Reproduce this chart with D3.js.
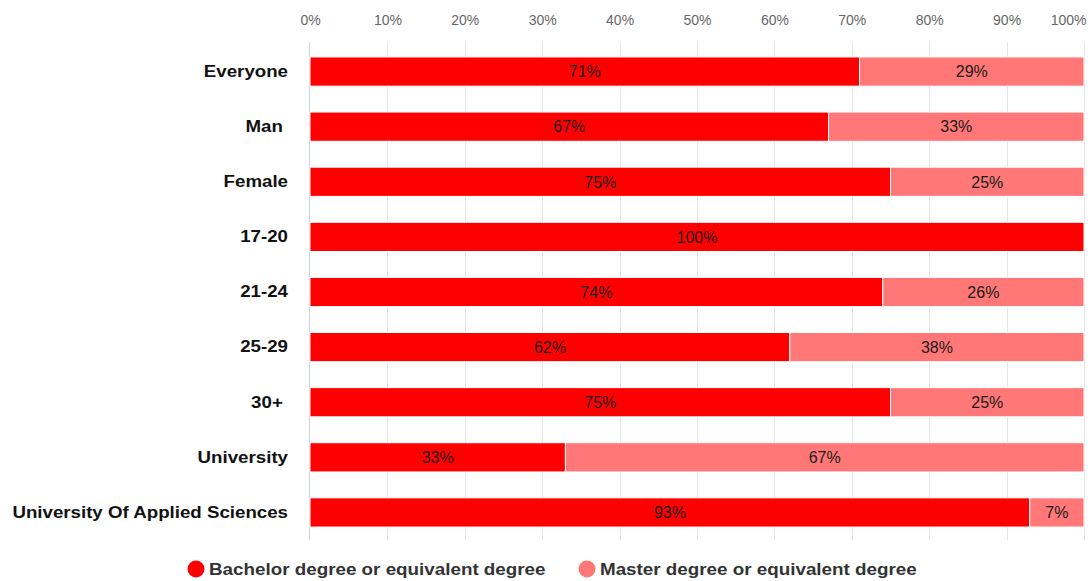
<!DOCTYPE html>
<html>
<head>
<meta charset="utf-8">
<script src="https://cdn.jsdelivr.net/npm/d3@7"></script>
<style>
  html, body { margin: 0; padding: 0; background: #fff; }
  svg { display: block; font-family: "Liberation Sans", Arial, sans-serif; }
</style>
</head>
<body>
<svg id="chart" width="1092" height="581"></svg>
<script>
// Degree level share by respondent group (percent)
const categories = ["Everyone", "Man ", "Female", "17-20", "21-24", "25-29", "30+ ", "University", "University Of Applied Sciences"];
const bachelor = [71, 67, 75, 100, 74, 62, 75, 33, 93];
const master = [29, 33, 25, 0, 26, 38, 25, 67, 7];
const seriesNames = ["Bachelor degree or equivalent degree", "Master degree or equivalent degree"];
const seriesColors = ["#ff0000", "#ff7777"];
const tickValues = [0, 10, 20, 30, 40, 50, 60, 70, 80, 90, 100];

(function () {
  const svg = d3.select("#chart");
  const plotLeft = 310, plotRight = 1084, plotTop = 44, plotBottom = 540;
  const stretch = 1.12; // horizontal widening of the bold label face

  const x = d3.scaleLinear().domain([0, 100]).range([plotLeft, plotRight]);
  const y = d3.scaleBand().domain(categories).range([plotTop, plotBottom]).paddingInner(0.47).paddingOuter(0.235);

  // Grid lines
  svg.append("g").selectAll("line").data(tickValues.slice(1)).join("line")
    .attr("x1", d => Math.round(x(d)) + 0.5).attr("x2", d => Math.round(x(d)) + 0.5)
    .attr("y1", plotTop - 2).attr("y2", plotBottom)
    .attr("stroke", "#e6e6e6").attr("stroke-width", 1);

  // Category axis line
  svg.append("line")
    .attr("x1", plotLeft - 0.5).attr("x2", plotLeft - 0.5)
    .attr("y1", plotTop - 2).attr("y2", plotBottom)
    .attr("stroke", "#ccd6eb");

  // Top value axis
  const xAxis = d3.axisTop(x).tickValues(tickValues).tickFormat(d => d + "%").tickSize(0).tickPadding(0);
  const gx = svg.append("g").attr("transform", "translate(0,25)").call(xAxis);
  gx.select(".domain").remove();
  gx.selectAll("text").attr("fill", "#666").style("font-size", "14px")
    .attr("text-anchor", d => d === 100 ? "end" : "middle")
    .attr("dx", d => d === 100 ? 2 : 0);

  // Category labels
  const yAxis = d3.axisLeft(y).tickSize(0);
  const gy = svg.append("g").attr("transform", `translate(${plotLeft},0)`).call(yAxis);
  gy.select(".domain").remove();
  gy.selectAll("text")
    .attr("x", -22 / stretch)
    .attr("transform", `scale(${stretch},1)`)
    .attr("fill", "#111").style("font-size", "16.7px").style("font-weight", "bold")
    .style("white-space", "pre");

  // Stacked bars
  const segs = [];
  categories.forEach((c, i) => {
    let acc = 0;
    [bachelor[i], master[i]].forEach((v, k) => {
      segs.push({ cat: c, k, v, x0: acc, x1: acc + v });
      acc += v;
    });
  });
  const shown = segs.filter(s => s.v > 0);

  svg.append("g").selectAll("rect").data(shown).join("rect")
    .attr("x", d => x(d.x0))
    .attr("width", d => x(d.x1) - x(d.x0))
    .attr("y", d => y(d.cat))
    .attr("height", y.bandwidth())
    .attr("fill", d => seriesColors[d.k])
    .attr("stroke", "#fff").attr("stroke-width", 1);

  svg.append("g").selectAll("text").data(shown).join("text")
    .attr("x", d => (x(d.x0) + x(d.x1)) / 2)
    .attr("y", d => y(d.cat) + y.bandwidth() / 2)
    .attr("dy", "0.36em")
    .attr("text-anchor", "middle")
    .attr("fill", "#1a1a1a")
    .style("font-size", "16px")
    .text(d => d.v + "%");

  // Legend
  const legend = svg.append("g");
  const legendX = [196, 587];
  seriesNames.forEach((name, k) => {
    const g = legend.append("g").attr("transform", `translate(${legendX[k]},569)`);
    g.append("circle").attr("r", 8.5).attr("fill", seriesColors[k]);
    g.append("text").attr("x", 13 / stretch).attr("dy", "0.36em")
      .attr("transform", `scale(${stretch},1)`)
      .attr("fill", "#333").style("font-size", "16.8px").style("font-weight", "bold")
      .text(name);
  });
})();
</script>
</body>
</html>
